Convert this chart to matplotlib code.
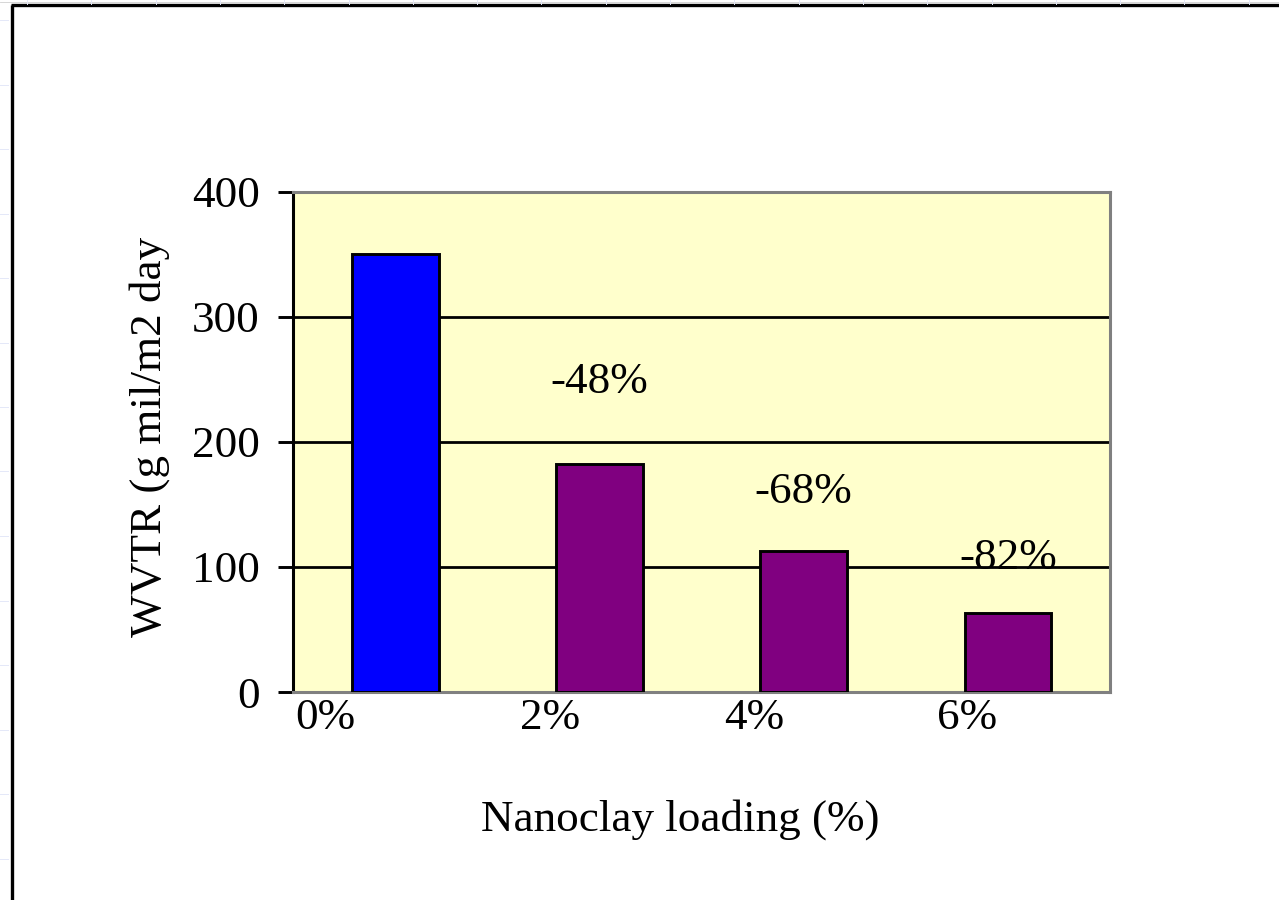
import matplotlib
matplotlib.use("Agg")
import matplotlib.pyplot as plt
from matplotlib.lines import Line2D
import numpy as np

# Data
loadings = ["0%", "2%", "4%", "6%"]
wvtr = [350, 182, 113, 63]
reductions = ["", "-48%", "-68%", "-82%"]
reduction_label_y = [None, 248, 160, 107]
bar_colors = ["#0000FF", "#800080", "#800080", "#800080"]
yticks = [0, 100, 200, 300, 400]

plt.rcParams["font.family"] = ["Liberation Serif", "DejaVu Serif"]
FS = 32.5

fig = plt.figure(figsize=(12.79, 9.0), dpi=100)
fig.patch.set_facecolor("white")

# Outer frame (left and top edges) plus faint sheet ruler marks
fig.add_artist(Line2D([0.0095, 0.0095], [0.0, 0.9945], transform=fig.transFigure,
                      color="black", lw=2.4, solid_capstyle="butt"))
fig.add_artist(Line2D([0.0085, 1.0], [0.9945, 0.9945], transform=fig.transFigure,
                      color="black", lw=2.4, solid_capstyle="butt"))
fig.add_artist(Line2D([0.0, 1.0], [0.9975, 0.9975], transform=fig.transFigure,
                      color="#d0d0d0", lw=0.6))
for yy in np.arange(20, 900, 64.5):
    fig.add_artist(Line2D([0.0, 0.006], [1 - yy / 900, 1 - yy / 900],
                          transform=fig.transFigure, color="#e4e8f8", lw=0.7))
for xx in np.arange(27, 1279, 64.3):
    fig.add_artist(Line2D([xx / 1279, xx / 1279], [0.996, 1.0],
                          transform=fig.transFigure, color="#e4e8f8", lw=0.7))

ax = fig.add_axes([0.2291, 0.2311, 0.6388, 0.5556])
ax.set_facecolor("#FFFFCC")

x = np.arange(len(loadings))
ax.bar(x, wvtr, width=0.425, color=bar_colors, edgecolor="black", linewidth=2.1, zorder=3)

ax.set_xlim(-0.5, len(loadings) - 0.5)
ax.set_ylim(0, 400)
ax.set_yticks(yticks)
ax.set_yticklabels([str(t) for t in yticks])
ax.yaxis.grid(True, color="black", linewidth=2.0, zorder=1)
ax.set_axisbelow(True)

# Category labels sit left of the bars
label_offsets = [-0.34, -0.24, -0.24, -0.2]
ax.set_xticks(x + np.array(label_offsets))
ax.set_xticklabels(loadings)
ax.tick_params(axis="x", length=0, pad=4, labelsize=FS)
ax.tick_params(axis="y", length=11, width=2.1, direction="out", pad=13, labelsize=FS)

for spine in ["top", "right", "bottom"]:
    ax.spines[spine].set_color("#808080")
    ax.spines[spine].set_linewidth(2.2)
ax.spines["left"].set_color("black")
ax.spines["left"].set_linewidth(2.2)

for xi, txt, ly in zip(x, reductions, reduction_label_y):
    if txt:
        ax.text(xi, ly, txt, ha="center", va="center", fontsize=FS, zorder=4)

ax.set_ylabel("WVTR (g mil/m2 day", fontsize=FS, labelpad=16)
ax.yaxis.label.set_y(0.51)
ax.set_xlabel("Nanoclay loading (%)", fontsize=FS, labelpad=44)
ax.xaxis.label.set_x(0.474)

fig.savefig("out.png", dpi=100)
